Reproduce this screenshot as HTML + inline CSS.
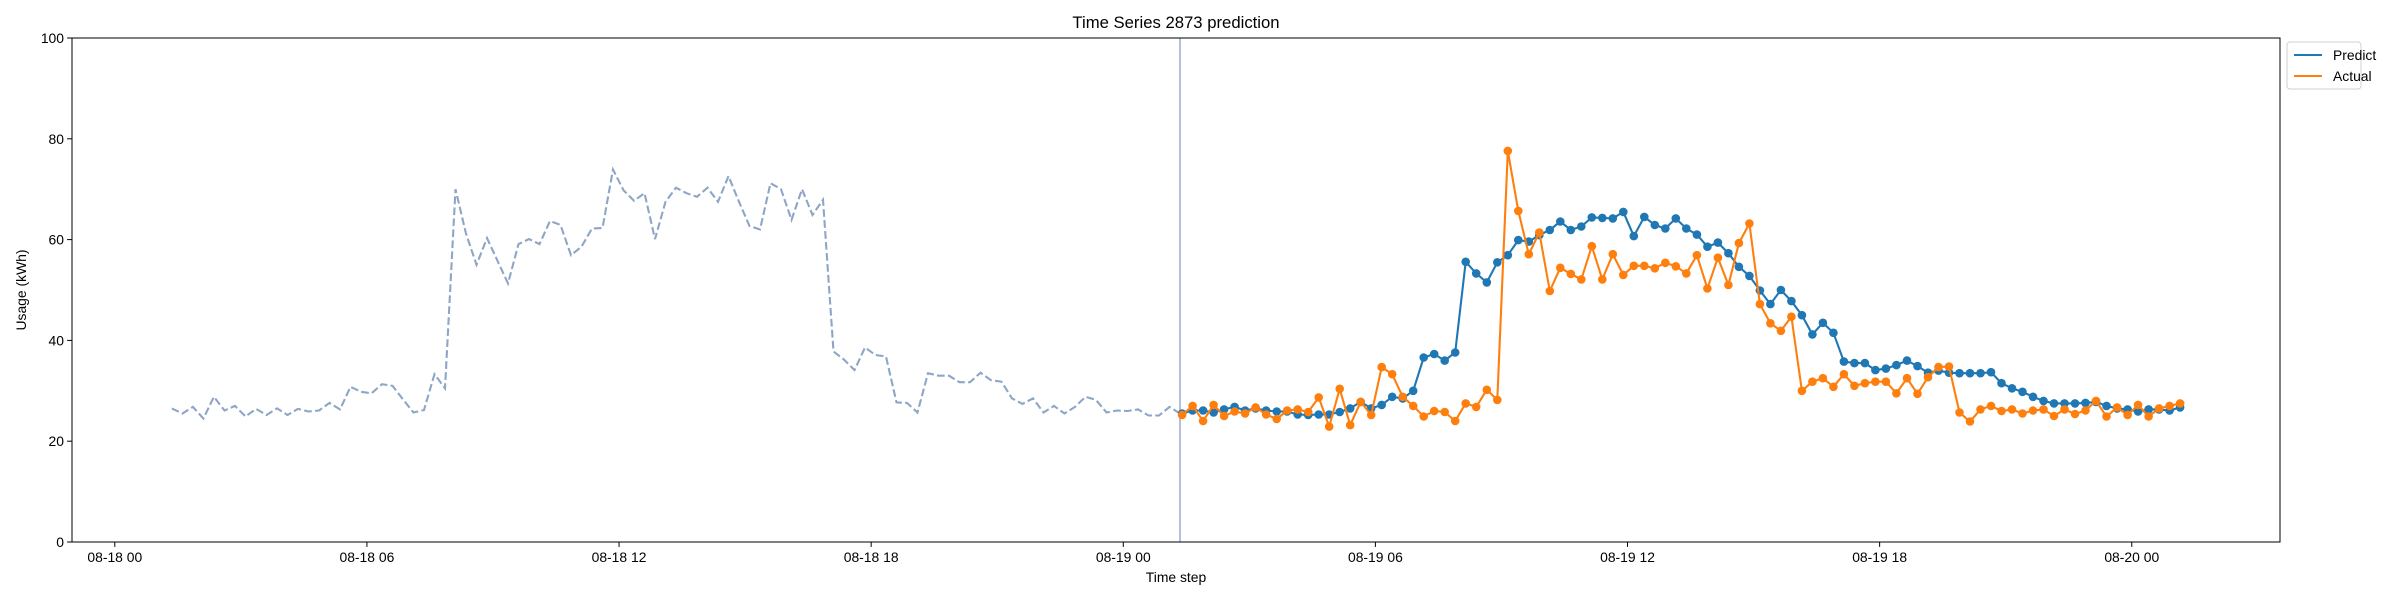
<!DOCTYPE html>
<html>
<head>
<meta charset="utf-8">
<style>
  html, body { margin: 0; padding: 0; background: #ffffff; }
  body { width: 2400px; height: 600px; overflow: hidden; }
  svg text { font-family: "Liberation Sans", "DejaVu Sans", sans-serif; fill: #000; }
</style>
</head>
<body>
<svg id="chart" width="2400" height="600" viewBox="0 0 2400 600" xmlns="http://www.w3.org/2000/svg">
  <rect x="0" y="0" width="2400" height="600" fill="#ffffff"/>
  <text x="1176" y="28" font-size="16.7" text-anchor="middle">Time Series 2873 prediction</text>
  <g id="grid-marks"></g>
  <g id="series"></g>
  <rect x="72" y="38" width="2208" height="504" fill="none" stroke="#000" stroke-width="1"/>
  <text x="1176" y="582" font-size="13.9" text-anchor="middle">Time step</text>
  <text x="0" y="0" font-size="13.9" text-anchor="middle" transform="translate(26,290) rotate(-90)">Usage (kWh)</text>
  <g>
    <rect x="2287" y="42" width="74" height="47" rx="3" fill="#ffffff" stroke="#d0d0d0" stroke-width="1"/>
    <g>
      <line x1="2294" y1="55" x2="2322" y2="55" stroke="#1f77b4" stroke-width="2.1"/>
      <text x="2333" y="60" font-size="13.9">Predict</text>
    </g>
    <g>
      <line x1="2294" y1="76" x2="2322" y2="76" stroke="#ff7f0e" stroke-width="2.1"/>
      <text x="2333" y="81" font-size="13.9">Actual</text>
    </g>
  </g>
</svg>
<script>
// ---- data ----
const historyValues = [26.5,25.5,26.8,24.5,28.8,26.1,27.0,24.9,26.4,25.2,26.5,25.2,26.4,25.9,26.1,27.6,26.3,30.8,29.8,29.5,31.3,31.0,28.3,25.7,26.2,33.3,30.5,70.0,61.2,55.0,60.3,55.8,51.3,59.1,60.1,59.1,63.7,62.9,56.9,58.6,62.2,62.3,73.9,69.8,67.7,69.2,60.1,67.5,70.3,
69.2,68.5,70.3,67.5,72.6,67.5,62.7,62.0,71.2,70.0,63.9,70.0,64.9,67.9,37.8,36.2,34.1,38.6,37.1,36.8,27.7,27.6,25.7,33.5,33.0,33.0,31.7,31.7,33.6,32.1,31.8,28.5,27.4,28.5,25.7,27.0,25.5,26.8,28.8,28.2,25.7,26.1,26.0,26.3,25.1,25.1,26.8,25.5];
const predictValues = [25.5,26.1,26.1,25.7,26.3,26.8,26.1,26.5,26.1,25.9,25.9,25.3,25.2,25.3,25.3,25.8,26.5,27.8,26.5,27.2,28.8,28.5,30.0,36.6,37.3,36.0,37.6,55.6,53.3,51.5,55.5,56.9,59.9,
59.6,60.9,61.9,63.6,61.9,62.6,64.4,64.3,64.2,65.5,60.7,64.5,62.9,62.2,64.2,62.2,61.0,58.6,59.4,57.3,54.6,52.8,49.9,47.2,50.0,47.8,45.0,41.2,43.5,41.5,35.8,35.5,
35.5,34.1,34.4,35.1,36.0,34.9,33.6,34.0,33.6,33.5,33.5,33.5,33.7,31.5,30.5,29.8,28.8,28.0,27.5,27.5,27.5,27.6,27.8,27.0,26.5,26.3,25.9,26.3,26.3,26.1,26.7];
const actualValues = [25.2,27.0,24.0,27.2,25.0,25.9,25.5,26.7,25.3,24.4,26.1,26.3,25.8,28.7,22.9,30.4,23.2,27.8,25.2,34.7,33.3,28.8,27.0,24.9,26.0,25.8,24.0,27.5,26.8,30.2,28.2,77.6,65.7,
57.1,61.4,49.8,54.4,53.2,52.1,58.7,52.1,57.1,53.0,54.8,54.8,54.3,55.4,54.7,53.3,56.9,50.3,56.4,51.0,59.3,63.2,47.2,43.4,41.9,44.7,30.0,31.8,32.5,30.8,33.3,31.0,
31.5,31.8,31.8,29.5,32.5,29.4,32.7,34.7,34.8,25.7,23.9,26.3,27.0,26.0,26.3,25.5,26.1,26.3,25.0,26.3,25.4,26.1,28.0,24.9,26.7,25.2,27.2,24.9,26.5,27.0,27.5];
const yTicks = [0,20,40,60,80,100];
const xTickHours = [0,6,12,18,24,30,36,42,48];
const xTickLabels = ["08-18 00","08-18 06","08-18 12","08-18 18","08-19 00","08-19 06","08-19 12","08-19 18","08-20 00"];
const histStartHour = 1.36;
const histEndHour = 25.35;
const predStartHour = 25.4;
const stepHours = 0.25;

// ---- scales ----
const PL = 72, PR = 2280, PT = 38, PB = 542;
const X0 = 114.8, PXH = 42.02;
function xScale(h) { return X0 + h * PXH; }
function yScale(v) { return PB - (v / 100) * (PB - PT); }
const NS = "http://www.w3.org/2000/svg";
function mk(tag, attrs, parent) {
  const e = document.createElementNS(NS, tag);
  for (const k in attrs) e.setAttribute(k, attrs[k]);
  parent.appendChild(e);
  return e;
}

// ---- axes ----
const gm = document.getElementById('grid-marks');
yTicks.forEach(v => {
  const y = yScale(v);
  const t = mk('line', {x1: PL - 4.9, y1: y, x2: PL, y2: y, stroke: '#000', 'stroke-width': 1}, gm);
  
  
  const l = mk('text', {x: PL - 8, y: y + 5, 'font-size': 13.9, 'text-anchor': 'end'}, gm);
  l.textContent = String(v);
  
  
});
xTickHours.forEach((h, i) => {
  const x = xScale(h);
  const t = mk('line', {x1: x, y1: PB, x2: x, y2: PB + 4.9, stroke: '#000', 'stroke-width': 1}, gm);
  
  
  const l = mk('text', {x: x, y: PB + 20, 'font-size': 13.9, 'text-anchor': 'middle'}, gm);
  l.textContent = xTickLabels[i];
  
  
});

// ---- series ----
const sg = document.getElementById('series');
const hStep = (histEndHour - histStartHour) / (historyValues.length - 1);
const histPts = historyValues.map((v, i) => xScale(histStartHour + i * hStep).toFixed(1) + ',' + yScale(v).toFixed(1)).join(' ');
const hl = mk('polyline', {points: histPts, fill: 'none', stroke: '#8ea6c6', 'stroke-width': 2.1, 'stroke-dasharray': '7.7 3.3'}, sg);



const vx = xScale(histEndHour);
const vl = mk('line', {x1: vx, y1: PT, x2: vx, y2: PB, stroke: '#a3b1d3', 'stroke-width': 1.6}, sg);



function drawSeries(vals, color, name) {
  const g = mk('g', {}, sg);
  
  
  const pts = vals.map((v, i) => xScale(predStartHour + i * stepHours).toFixed(1) + ',' + yScale(v).toFixed(1)).join(' ');
  const pl = mk('polyline', {points: pts, fill: 'none', stroke: color, 'stroke-width': 2.1}, g);
  
  
  vals.forEach((v, i) => {
    const c = mk('circle', {cx: xScale(predStartHour + i * stepHours).toFixed(1), cy: yScale(v).toFixed(1), r: 4.3, fill: color}, g);
    
    
  });
}
drawSeries(predictValues, '#1f77b4', 'predict');
drawSeries(actualValues, '#ff7f0e', 'actual');
</script>
</body>
</html>
